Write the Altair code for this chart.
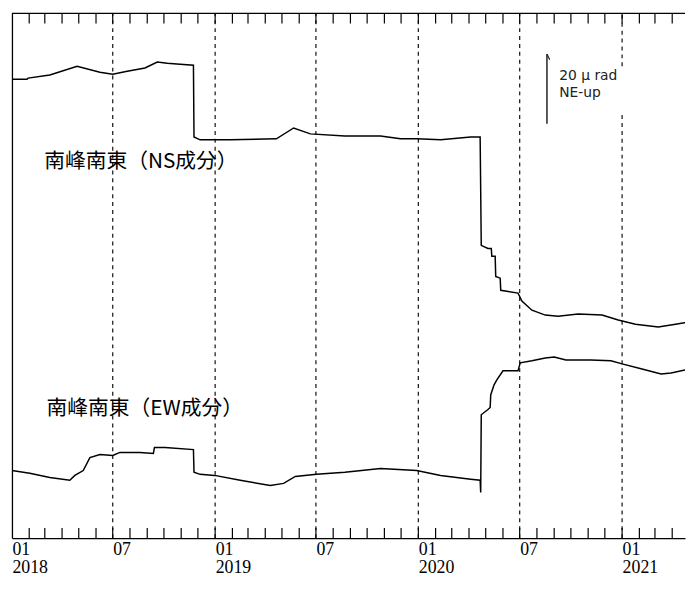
import altair as alt
import pandas as pd

def ts(s):
    return int(pd.Timestamp(s, tz="UTC").timestamp() * 1000)

# ---- data (μrad, arbitrary offsets) ----
ns_dates = ["2018-01-01", "2018-01-28", "2018-01-30", "2018-03-10", "2018-04-28", "2018-06-08",
            "2018-07-01", "2018-07-27", "2018-08-28", "2018-09-19", "2018-10-07", "2018-10-30",
            "2018-11-23", "2018-11-24", "2018-12-05", "2019-01-28", "2019-04-21", "2019-05-22",
            "2019-06-21", "2019-08-22", "2019-10-25", "2019-11-30", "2019-12-29", "2020-02-10",
            "2020-04-04", "2020-04-21", "2020-04-23", "2020-05-05", "2020-05-11", "2020-05-12",
            "2020-05-18", "2020-05-19", "2020-05-27", "2020-05-28", "2020-06-28", "2020-07-05",
            "2020-07-23", "2020-08-16", "2020-09-08", "2020-10-14", "2020-11-26", "2020-12-25",
            "2021-01-25", "2021-03-07", "2021-04-07", "2021-05-13"]
ns_vals = [131.7, 131.7, 132.0, 132.9, 135.4, 133.7,
           133.1, 134.0, 134.9, 136.6, 136.3, 136.0,
           135.7, 115.1, 114.3, 114.3, 114.6, 117.7,
           116.0, 115.4, 115.4, 114.6, 114.6, 114.3,
           115.1, 115.1, 84.0, 83.1, 83.1, 80.9,
           80.9, 75.1, 74.6, 71.1, 70.3, 68.0,
           65.4, 64.0, 63.7, 64.3, 64.0, 62.6,
           61.4, 60.6, 61.4, 62.3]

ew_dates = ["2018-01-01", "2018-02-02", "2018-03-10", "2018-04-15", "2018-04-24", "2018-05-09",
            "2018-05-21", "2018-06-08", "2018-07-01", "2018-07-14", "2018-08-19", "2018-09-12",
            "2018-09-14", "2018-10-03", "2018-11-23", "2018-11-24", "2018-12-05", "2018-12-31",
            "2019-02-15", "2019-04-10", "2019-05-04", "2019-05-25", "2019-07-02", "2019-08-22",
            "2019-10-25", "2019-12-29", "2020-02-10", "2020-04-04", "2020-04-21", "2020-04-22",
            "2020-04-23", "2020-05-05", "2020-05-09", "2020-05-10", "2020-05-16", "2020-05-21",
            "2020-06-01", "2020-06-28", "2020-07-02", "2020-07-23", "2020-08-16", "2020-09-01",
            "2020-09-22", "2020-11-06", "2020-12-12", "2021-01-01", "2021-02-04", "2021-03-12",
            "2021-03-30", "2021-05-13"]
ew_vals = [19.4, 18.6, 17.4, 16.6, 18.0, 19.4,
           23.1, 24.0, 23.7, 24.6, 24.6, 24.3,
           26.0, 26.0, 25.4, 18.9, 18.3, 18.0,
           16.6, 15.1, 15.7, 17.7, 18.3, 18.9,
           20.0, 19.4, 18.0, 16.9, 16.6, 13.1,
           35.4, 36.9, 37.5, 41.1, 44.0, 45.4,
           48.0, 48.0, 50.3, 50.9, 51.7, 52.0,
           51.1, 51.1, 50.9, 50.0, 48.6, 47.1,
           47.4, 48.9]

label_dates = ["2018-01-01", "2018-07-01", "2019-01-01", "2019-07-01",
               "2020-01-01", "2020-07-01", "2021-01-01"]
guide_dates = ["2018-07-01", "2019-01-01", "2019-07-01", "2020-01-01",
               "2020-07-01", "2021-01-01", "2021-01-01"]

series_names = ["南峰南東（NS成分）", "南峰南東（EW成分）"]
series_label_dates = ["2018-02-28", "2018-03-04"]
series_label_vals = [108.0, 36.9]

scale_date = "2020-08-19"
scale_hook_date = "2020-08-24"
scale_lo, scale_hi, scale_hook = 118.9, 138.9, 137.3
scale_text = ["20 μ rad", "NE-up"]
scale_text_date = "2020-09-10"
scale_text_vals = [132.6, 127.7]

x_start, x_end = "2018-01-01", "2021-04-24"
y_lo_dom, y_hi_dom = 0, 150.6
tick_len = 2.9  # ≈ 10 px in μrad units
gap_lo, gap_hi = 121.7, 135.4  # break in the Jan-2021 guide behind the scale text

guide_lo = [y_lo_dom] * 6 + [gap_hi]
guide_hi = [y_hi_dom] * 5 + [gap_lo, y_hi_dom]

# ---- tables ----
lines_df = pd.concat([
    pd.DataFrame({"date": ns_dates, "v": ns_vals, "s": "NS"}),
    pd.DataFrame({"date": ew_dates, "v": ew_vals, "s": "EW"}),
])
month_list = [d.strftime("%Y-%m-%d") for d in pd.date_range("2018-02-01", "2021-04-01", freq="MS")]
ticks_df = pd.concat([
    pd.DataFrame({"date": month_list, "lo": y_hi_dom - tick_len, "hi": y_hi_dom}),
    pd.DataFrame({"date": month_list, "lo": y_lo_dom, "hi": y_lo_dom + tick_len}),
])
guides_df = pd.DataFrame({"date": guide_dates, "lo": guide_lo, "hi": guide_hi})
names_df = pd.DataFrame({"date": series_label_dates, "v": series_label_vals, "t": series_names})
bar_df = pd.DataFrame({"date": [scale_date], "d2": [scale_hook_date],
                       "lo": [scale_lo], "hi": [scale_hi], "hk": [scale_hook]})
stext_df = pd.DataFrame({"date": [scale_text_date] * 2, "v": scale_text_vals, "t": scale_text})
border_df = pd.DataFrame({"v": [y_hi_dom]})

xscale = alt.Scale(type="utc", domain=[ts(x_start), ts(x_end)], nice=False)
yscale = alt.Scale(domain=[y_lo_dom, y_hi_dom], nice=False, zero=False)

xaxis = alt.Axis(
    values=[ts(d) for d in label_dates],
    labelExpr="utcFormat(datum.value, '%m') == '01' ? [utcFormat(datum.value, '%m'), utcFormat(datum.value, '%Y')] : utcFormat(datum.value, '%m')",
    labelAlign="left", labelBaseline="top", labelFont="Liberation Serif",
    labelFontSize=18, labelLineHeight=18, labelPadding=3, labelColor="black",
    labelOverlap=False, labelBound=False, labelFlush=False,
    ticks=False, grid=False, domain=True, domainColor="black", domainWidth=1.3,
    title=None,
)
yaxis = alt.Axis(domain=True, ticks=False, labels=False, grid=False, title=None,
                 domainColor="black", domainWidth=1.3)

def X(f="date"):
    return alt.X(f"{f}:T", scale=xscale, axis=xaxis)

def Y(f):
    return alt.Y(f"{f}:Q", scale=yscale, axis=yaxis)

guides = alt.Chart(guides_df).mark_rule(color="#222", strokeWidth=1.3, strokeDash=[4, 4]).encode(
    x=X(), y=Y("lo"), y2="hi")

ticks = alt.Chart(ticks_df).mark_rule(color="black", strokeWidth=1.2, clip=True).encode(
    x=X(), y=Y("lo"), y2="hi")

lines = alt.Chart(lines_df).mark_line(color="black", strokeWidth=1.5, interpolate="linear",
                                      clip=True).encode(
    x=X(), y=Y("v"), detail="s:N")

bar = alt.Chart(bar_df).mark_rule(color="#222", strokeWidth=1.5).encode(x=X(), y=Y("lo"), y2="hi")
hook = alt.Chart(bar_df).mark_rule(color="#222", strokeWidth=1.2).encode(x=X(), x2="d2", y=Y("hi"), y2="hk")

stext = alt.Chart(stext_df).mark_text(align="left", baseline="middle", font="DejaVu Sans",
                                      fontSize=14, color="#222").encode(x=X(), y=Y("v"), text="t:N")
names = alt.Chart(names_df).mark_text(align="left", baseline="middle", font="Noto Sans CJK JP",
                                      fontSize=21, color="black").encode(x=X(), y=Y("v"), text="t:N")

top_border = alt.Chart(border_df).mark_rule(color="black", strokeWidth=1.3).encode(y=Y("v"))

pad = {"left": 3, "top": 1, "right": 0, "bottom": 0}
chart = alt.layer(guides, ticks, lines, bar, hook, stext, names, top_border).properties(
    width=686, height=572, background="white", padding=pad,
    autosize=alt.AutoSizeParams(type="fit", contains="padding"),
).configure(padding=pad).configure_view(stroke=None)

chart.save("out.html", embed_options={"renderer": "svg", "actions": False})
